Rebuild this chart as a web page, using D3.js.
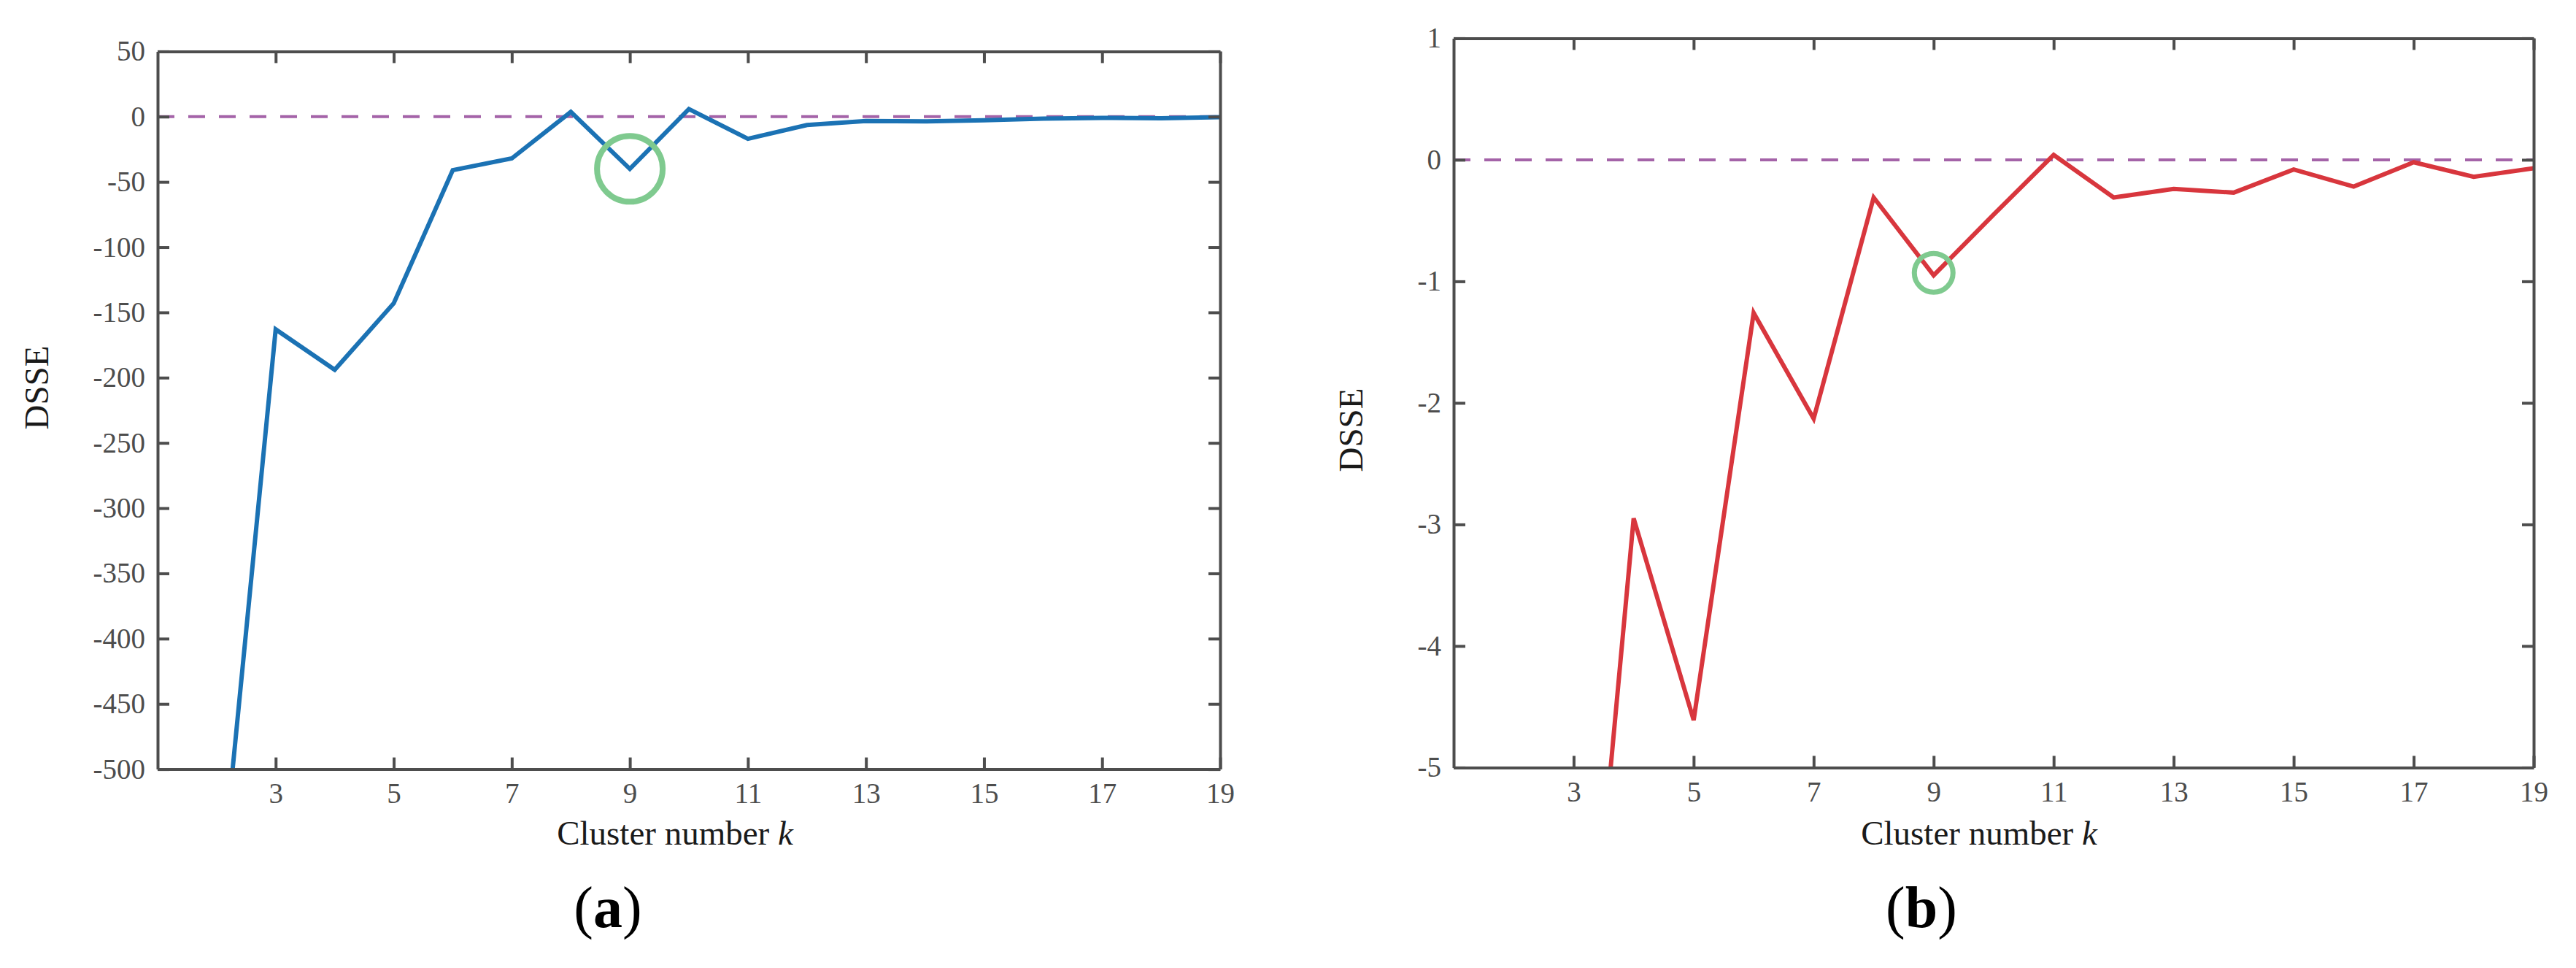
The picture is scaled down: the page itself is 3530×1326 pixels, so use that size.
<!DOCTYPE html>
<html>
<head>
<meta charset="utf-8">
<script src="https://cdn.jsdelivr.net/npm/d3@7"></script>
<style>
  body { margin: 0; background: #fff; }
  text { font-family: "Liberation Serif", "DejaVu Serif", serif; }
</style>
</head>
<body>
<svg width="3530" height="1326"></svg>
<script>
// DSSE vs cluster number, two panels (a) and (b)

// panel (a) - k=2 is off the bottom of the axis, only its slope shows
const kA = [2, 3, 4, 5, 6, 7, 8, 9, 10, 11, 12, 13, 14, 15, 16, 17, 18, 19];
const dsseA = [-625, -163, -194, -143, -41, -32, 3.6, -40, 5.8, -17, -6.4, -3.4, -3.6, -2.8, -1.5, -0.9, -1.3, -0.4];

// panel (b) - k=3 is below -5, estimated from the visible segment
const kB = [3, 4, 5, 6, 7, 8, 9, 10, 11, 12, 13, 14, 15, 16, 17, 18, 19];
const dsseB = [-8.3, -2.95, -4.61, -1.26, -2.13, -0.31, -0.95, -0.45, 0.04, -0.31, -0.24, -0.27, -0.08, -0.22, -0.02, -0.14, -0.07];

const xTicks = [3, 5, 7, 9, 11, 13, 15, 17, 19];
const yTicksA = [50, 0, -50, -100, -150, -200, -250, -300, -350, -400, -450, -500];
const yTicksB = [1, 0, -1, -2, -3, -4, -5];

// the circled k and its value on each panel
const markA = {k: 9, v: -40};
const markB = {k: 9, v: -0.93};

const AXIS = '#4d4d4d';
const TICK = 16;
const SERIF = '"Liberation Serif", "DejaVu Serif", serif';

// plain hyphen minus like the original, not d3's unicode minus
const fmt = d => String(d);

function panel(opt){
    let svg = d3.select('svg');
    let g = svg.append('g');
    let x = d3.scaleLinear().domain([1, 19]).range([opt.left, opt.right]);
    let y = d3.scaleLinear().domain(opt.ydom).range([opt.bottom, opt.top]);

    g.append('clipPath').attr('id', 'clip' + opt.id)
     .append('rect').attr('x', opt.left).attr('y', opt.top)
     .attr('width', opt.right - opt.left).attr('height', opt.bottom - opt.top);

    // zero reference line
    g.append('line')
     .attr('x1', x(1)).attr('x2', x(19)).attr('y1', y(0)).attr('y2', y(0))
     .attr('stroke', '#a463a8').attr('stroke-width', 4)
     .attr('stroke-dasharray', '23,19');

    let line = d3.line().x((d, i) => x(opt.ks[i])).y(d => y(d));
    g.append('path').datum(opt.vals)
     .attr('clip-path', 'url(#clip' + opt.id + ')')
     .attr('d', line).attr('fill', 'none')
     .attr('stroke', opt.color).attr('stroke-width', 6)
     .attr('stroke-linejoin', 'miter');

    g.append('circle')
     .attr('cx', x(opt.mark.k)).attr('cy', y(opt.mark.v)).attr('r', opt.r)
     .attr('fill', 'none').attr('stroke', '#7fca8f').attr('stroke-width', opt.rw);

    // axes, ticks point inward on all four sides
    g.append('g').attr('transform', `translate(0,${opt.bottom})`)
        .call(d3.axisBottom(x).tickValues(xTicks).tickFormat(fmt)
              .tickSize(-TICK).tickSizeOuter(0).tickPadding(19));
    g.append('g').attr('transform', `translate(${opt.left},0)`)
        .call(d3.axisLeft(y).tickValues(opt.yticks).tickFormat(fmt)
              .tickSize(-TICK).tickSizeOuter(0).tickPadding(17));
    g.append('g').attr('transform', `translate(0,${opt.top})`)
        .call(d3.axisTop(x).tickValues(xTicks).tickSize(-TICK).tickSizeOuter(0).tickFormat(''));
    g.append('g').attr('transform', `translate(${opt.right},0)`)
        .call(d3.axisRight(y).tickValues(opt.yticks).tickSize(-TICK).tickSizeOuter(0).tickFormat(''));

    // d3 puts sans-serif on the axis groups, undo that
    g.selectAll('g').attr('font-family', SERIF).attr('font-size', 39);
    g.selectAll('.domain').attr('stroke', AXIS).attr('stroke-width', 4);
    g.selectAll('.tick line').attr('stroke', AXIS).attr('stroke-width', 4);
    g.selectAll('.tick text').attr('fill', AXIS)
     .style('font-family', SERIF).style('font-size', '39px');

    // labels
    let xl = g.append('text').attr('x', opt.xlab).attr('y', 1157)
              .attr('text-anchor', 'middle').attr('font-size', 47).attr('fill', '#1a1a1a');
    xl.append('tspan').text('Cluster number ');
    xl.append('tspan').attr('font-style', 'italic').text('k');

    g.append('text').attr('transform', `translate(${opt.ylabX},${opt.ylabY}) rotate(-90)`)
     .attr('text-anchor', 'middle').attr('font-size', 47).attr('fill', '#1a1a1a')
     .text('DSSE');

    let cap = g.append('text').attr('x', opt.cap).attr('y', 1270)
               .attr('text-anchor', 'middle').attr('font-size', 80).attr('fill', '#000');
    cap.append('tspan').text('(');
    cap.append('tspan').attr('font-weight', 'bold').text(opt.letter);
    cap.append('tspan').text(')');
}

function main(){
    panel({id: 'a', ks: kA, vals: dsseA, ydom: [-500, 50], yticks: yTicksA,
           left: 216, right: 1672, top: 70.4, bottom: 1053.6,
           color: '#1b72b4', mark: markA, r: 45, rw: 8,
           xlab: 925, ylabX: 66, ylabY: 531, cap: 833, letter: 'a'});
    panel({id: 'b', ks: kB, vals: dsseB, ydom: [-5, 1], yticks: yTicksB,
           left: 1992, right: 3472, top: 52.4, bottom: 1051.4,
           color: '#d8363d', mark: markB, r: 26.5, rw: 7,
           xlab: 2712, ylabX: 1867, ylabY: 589, cap: 2633, letter: 'b'});
}

main();
</script>
</body>
</html>
